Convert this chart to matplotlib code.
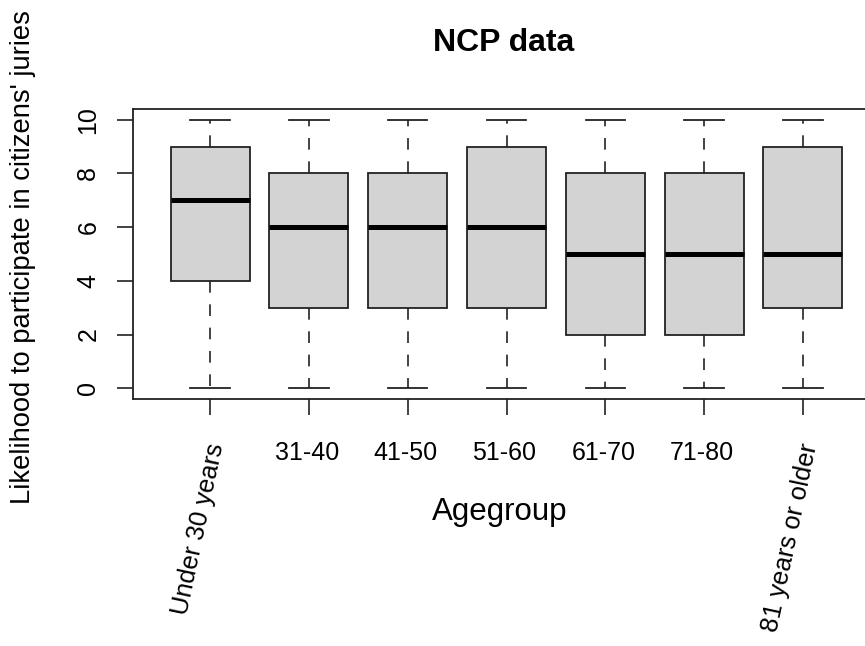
import matplotlib
matplotlib.use("Agg")
import matplotlib.pyplot as plt
import matplotlib.transforms as mtransforms

plt.rcParams['font.family'] = ['Liberation Sans', 'DejaVu Sans']

# ---- data ----
categories = ["Under 30 years", "31-40", "41-50", "51-60", "61-70", "71-80", "81 years or older"]
whisker_low = [0, 0, 0, 0, 0, 0, 0]
q1 = [4, 3, 3, 3, 2, 2, 3]
medians = [7, 6, 6, 6, 5, 5, 5]
q3 = [9, 8, 8, 9, 8, 8, 9]
whisker_high = [10, 10, 10, 10, 10, 10, 10]
y_ticks = [0, 2, 4, 6, 8, 10]
rotated = [True, False, False, False, False, False, True]

W, H = 865, 646
fig = plt.figure(figsize=(W / 100, H / 100), dpi=100)

# axes in pixel geometry (right side extends past the figure edge, as in reference)
left, right, top, bottom = 133, 880, 109, 399
ax = fig.add_axes([left / W, 1 - bottom / H, (right - left) / W, (bottom - top) / H])

stats = []
for i in range(len(categories)):
    stats.append(dict(whislo=whisker_low[i], q1=q1[i], med=medians[i],
                      q3=q3[i], whishi=whisker_high[i], fliers=[], label=categories[i]))

positions = list(range(1, len(categories) + 1))
ax.bxp(stats, positions=positions, widths=0.8, patch_artist=True, showfliers=False,
       boxprops=dict(facecolor='#D3D3D3', edgecolor='#222222', linewidth=1.3),
       medianprops=dict(color='black', linewidth=3.6, solid_capstyle='butt'),
       whiskerprops=dict(color='#222222', linewidth=1.2, linestyle=(0, (7, 7))),
       capprops=dict(color='#222222', linewidth=1.3),
       capwidths=0.4)

n = len(categories)
ax.set_xlim(0.5 - 0.04 * n, n + 0.5 + 0.04 * n)
ax.set_ylim(-0.4, 10.4)

for s in ax.spines.values():
    s.set_linewidth(1.3)
    s.set_color('#222222')

ax.set_yticks(y_ticks)
ax.set_yticklabels([str(v) for v in y_ticks], rotation=90, va='center', fontsize=18)
ax.tick_params(axis='y', length=11.5, width=1.2, pad=12, colors='#222222', labelcolor='black')
ax.set_xticks(positions)
ax.set_xticklabels([])
ax.tick_params(axis='x', length=11.5, width=1.2, colors='#222222')

# x tick labels (mixed rotation as in the reference)
base = mtransforms.blended_transform_factory(ax.transData, ax.transAxes)
for pos, lab, rot in zip(positions, categories, rotated):
    if rot:
        tr = base + mtransforms.ScaledTranslation(7 / 100, -45 / 100, fig.dpi_scale_trans)
        ax.text(pos, 0, lab, transform=tr, rotation=78, rotation_mode='anchor',
                ha='right', va='center', fontsize=18.4, clip_on=False)
    else:
        tr = base + mtransforms.ScaledTranslation(-2 / 100, -61 / 100, fig.dpi_scale_trans)
        ax.text(pos, 0, lab, transform=tr, ha='center', va='baseline', fontsize=18,
                clip_on=False)

fig.text(504 / W, 1 - 43 / H, "NCP data", ha='center', va='center', fontsize=23,
         fontweight='bold')
fig.text(23 / W, 1 - 257 / H, "Likelihood to participate in citizens' juries",
         rotation=90, ha='center', va='center', fontsize=19.7)
fig.text(500 / W, 1 - 512 / H, "Agegroup", ha='center', va='center', fontsize=22.5)

fig.savefig("out.png", dpi=100)
